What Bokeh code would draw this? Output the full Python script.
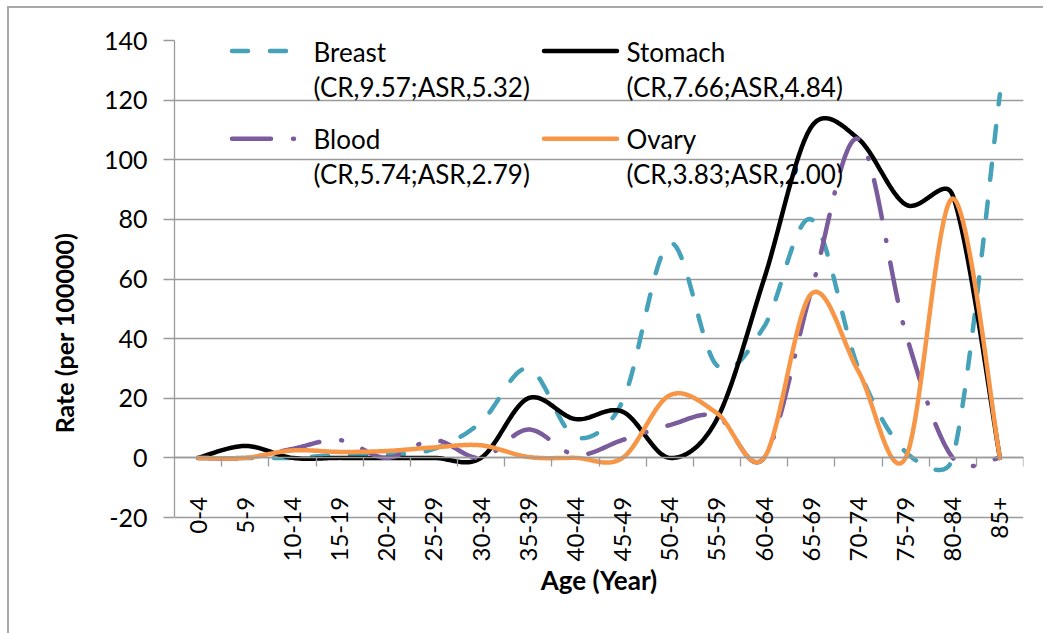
import math
from bokeh.plotting import figure
from bokeh.models import FixedTicker, Range1d
from bokeh.core.properties import value
from bokeh.embed import file_html
from bokeh.resources import INLINE

# ---------------- data ----------------
ages = ["0-4", "5-9", "10-14", "15-19", "20-24", "25-29", "30-34", "35-39", "40-44",
        "45-49", "50-54", "55-59", "60-64", "65-69", "70-74", "75-79", "80-84", "85+"]
breast = [0, 0, 0, 1, 1, 3, 12, 30, 7, 19, 72, 31, 44, 80, 30, 2, 0, 122]
stomach = [0, 4, 0, 0, 0, 0, 0, 20, 13, 15.5, 0, 13, 60, 111, 107, 85, 88, 0]
blood = [0, 0, 3, 6, 0, 6, 0, 9.5, 1, 6, 11, 14, 0, 56, 107, 42, 0, 0]
ovary = [0, 0, 2.5, 2, 2.3, 3.5, 4.2, 0.3, 0, 0, 21, 15, 0, 55, 29, 0, 87, 0]
y_ticks = [-20, 0, 20, 40, 60, 80, 100, 120, 140]
legend_names = ["Breast", "Stomach", "Blood", "Ovary"]
legend_stats = ["(CR,9.57;ASR,5.32)", "(CR,7.66;ASR,4.84)",
                "(CR,5.74;ASR,2.79)", "(CR,3.83;ASR,2.00)"]

# ---------------- layout ----------------
FW = 849                 # frame width (px)
AXIS_H = 477             # height of the -20..140 value band (px)
FH = 585                 # frame height incl. room below for category labels
X0, X1 = -0.5, len(ages) - 0.5
Y0, Y1 = -20, 140
SX = FW / (X1 - X0)      # px per category
SY = AXIS_H / (Y1 - Y0)  # px per unit
Y_BOTTOM = Y1 - FH / SY

FONT = "Lato"
GRID = "#9a9a9a"

TEAL = "#46A2B9"
BLACK = "#000000"
PURPLE = "#7A5B9C"
ORANGE = "#F79646"
LW = 4.5


def excel_smooth(xs, ys, n=30):
    """Excel-style smoothed line (Bezier with limited control arms), in pixel space."""
    P = [(x * SX, y * SY) for x, y in zip(xs, ys)]

    def dist(a, b):
        return math.hypot(a[0] - b[0], a[1] - b[1])

    ox, oy = [P[0][0]], [P[0][1]]
    for i in range(len(P) - 1):
        p0 = P[i - 1] if i > 0 else P[i]
        p1 = P[i]
        p2 = P[i + 1]
        p3 = P[i + 2] if i + 2 < len(P) else P[i + 1]
        d02, d12, d13 = dist(p0, p2), dist(p1, p2), dist(p1, p3)
        f = 1 / 6
        f1 = f if (d02 == 0 or d02 / 6 < d12 / 2) else d12 / (2 * d02)
        f2 = f if (d13 == 0 or d13 / 6 < d12 / 2) else d12 / (2 * d13)
        c1 = (p1[0] + (p2[0] - p0[0]) * f1, p1[1] + (p2[1] - p0[1]) * f1)
        c2 = (p2[0] - (p3[0] - p1[0]) * f2, p2[1] - (p3[1] - p1[1]) * f2)
        for k in range(1, n + 1):
            t = k / n
            a, b, c, d = (1 - t) ** 3, 3 * (1 - t) ** 2 * t, 3 * (1 - t) * t ** 2, t ** 3
            ox.append(a * p1[0] + b * c1[0] + c * c2[0] + d * p2[0])
            oy.append(a * p1[1] + b * c1[1] + c * c2[1] + d * p2[1])
    return [v / SX for v in ox], [v / SY for v in oy]


p = figure(frame_width=FW, frame_height=FH,
           x_range=Range1d(X0, X1), y_range=Range1d(Y_BOTTOM, Y1),
           output_backend="svg", toolbar_location=None,
           min_border_left=165, min_border_top=32, min_border_right=20, min_border_bottom=8)
p.styles = {"margin-left": "7px", "margin-top": "6px",
            "border-left": "2px solid #a8a8a8", "border-top": "2px solid #a8a8a8",
            "border-right": "0px none", "border-bottom": "0px none", "box-shadow": "none"}
p.outline_line_color = None
p.background_fill_color = "white"
p.border_fill_color = "white"

# grid
p.xgrid.visible = False
p.ygrid.ticker = FixedTicker(ticks=y_ticks)
p.ygrid.grid_line_color = GRID
p.ygrid.grid_line_width = 1.3

# y axis
ya = p.yaxis[0]
ya.ticker = FixedTicker(ticks=y_ticks)
ya.bounds = (Y0, Y1)
ya.major_label_overrides = {t: str(t) for t in y_ticks}
ya.axis_line_color = GRID
ya.axis_line_width = 1.3
ya.major_tick_line_color = GRID
ya.major_tick_line_width = 1.3
ya.major_tick_out = 11
ya.major_tick_in = 0
ya.minor_tick_out = 0
ya.minor_tick_in = 0
ya.major_label_text_font = FONT
ya.major_label_text_font_size = "25px"
ya.major_label_text_color = "black"
ya.major_label_standoff = 16
ya.axis_label = "Rate (per 100000)"
ya.axis_label_text_font = FONT
ya.axis_label_text_font_style = "bold"
ya.axis_label_text_font_size = "25px"
ya.axis_label_text_color = "black"
ya.axis_label_standoff = 22

# x axis (category axis crossing at 0)
xa = p.xaxis[0]
xa.fixed_location = 0
centers = list(range(len(ages)))
bounds = [i + 0.5 for i in range(len(ages))]
xa.ticker = FixedTicker(ticks=centers, minor_ticks=bounds)
xa.major_label_overrides = {i: a for i, a in enumerate(ages)}
xa.major_label_orientation = math.pi / 2
xa.axis_line_color = GRID
xa.axis_line_width = 1.3
xa.major_tick_out = 0
xa.major_tick_in = 0
xa.minor_tick_line_color = GRID
xa.minor_tick_line_width = 1.3
xa.minor_tick_out = 9
xa.minor_tick_in = 0
xa.major_label_text_font = FONT
xa.major_label_text_font_size = "24px"
xa.major_label_text_color = "black"
xa.major_label_standoff = 30
xa.axis_label = "Age (Year)"
xa.axis_label_text_font = FONT
xa.axis_label_text_font_style = "bold"
xa.axis_label_text_font_size = "26px"
xa.axis_label_text_color = "black"
xa.axis_label_standoff = 0

styles = {
    "Breast": dict(line_color=TEAL, line_dash="16 22"),
    "Stomach": dict(line_color=BLACK, line_dash="solid"),
    "Blood": dict(line_color=PURPLE, line_dash="39 22 1 22"),
    "Ovary": dict(line_color=ORANGE, line_dash="solid"),
}
series = {"Breast": breast, "Stomach": stomach, "Blood": blood, "Ovary": ovary}

for name in ["Breast", "Stomach", "Blood", "Ovary"]:
    sx_, sy_ = excel_smooth(centers, series[name])
    p.line(sx_, sy_, line_width=LW, line_cap="round", line_join="round", **styles[name])


# ---------------- legend (drawn inside the plot area) ----------------
def X(px):
    return X0 + (px - 174) / SX


def Y(py):
    return Y1 - (py - 40) / SY


leg_cols = [231.5, 543.5]
leg_rows = [(50.5, 51, 86), (138.3, 138, 173)]
sample_len = {"Breast": 55, "Stomach": 73, "Blood": 62.5, "Ovary": 73}
text_x = {"Breast": 313, "Blood": 313, "Stomach": 626, "Ovary": 626}
for idx, name in enumerate(legend_names):
    r, c = divmod(idx, 2)
    lx = leg_cols[c]
    ly, t1, t2 = leg_rows[r]
    p.line([X(lx), X(lx + sample_len[name])], [Y(ly), Y(ly)], line_width=LW,
           line_cap="round", **styles[name])
    p.text([X(text_x[name])], [Y(t1)], text=[name], text_font=value(FONT),
           text_font_size="26px", text_baseline="middle", text_align="left", text_color="black")
    p.text([X(text_x[name])], [Y(t2)], text=[legend_stats[idx]], text_font=value(FONT),
           text_font_size="26px", text_baseline="middle", text_align="left", text_color="black")

open("out.html", "w").write(file_html(p, INLINE))
